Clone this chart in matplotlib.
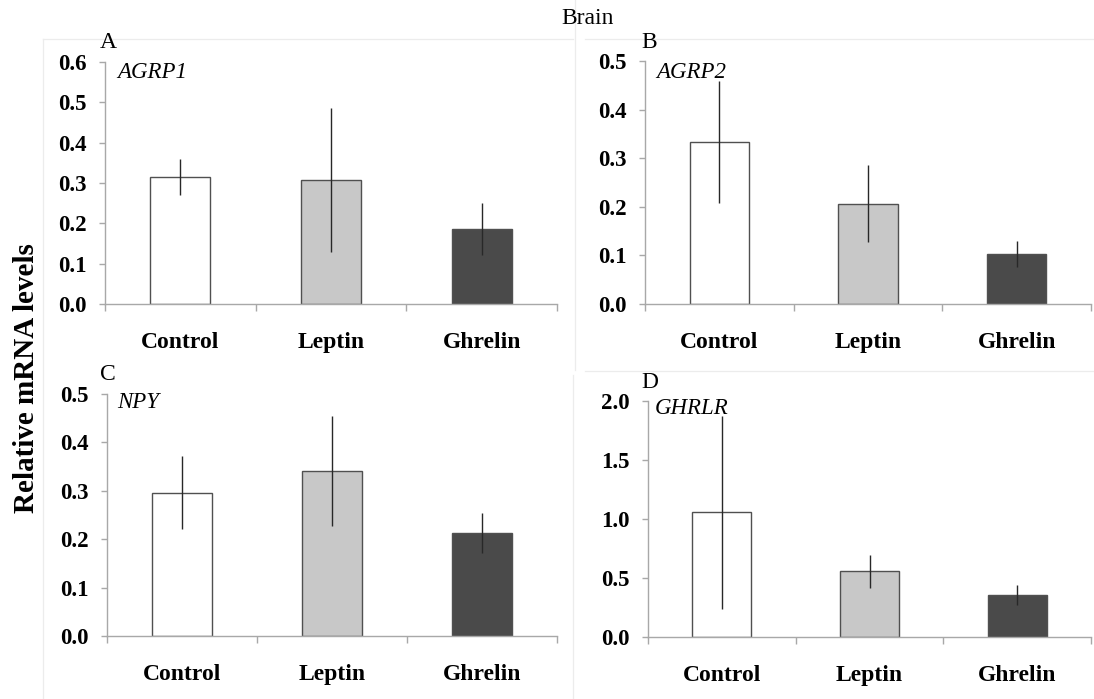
import matplotlib
matplotlib.use("Agg")
import matplotlib.pyplot as plt
from matplotlib.lines import Line2D
import numpy as np

categories = ["Control", "Leptin", "Ghrelin"]

agrp1_mean = [0.315, 0.308, 0.186]
agrp1_err = [0.045, 0.178, 0.064]

agrp2_mean = [0.333, 0.206, 0.103]
agrp2_err = [0.125, 0.079, 0.027]

npy_mean = [0.296, 0.341, 0.213]
npy_err = [0.075, 0.113, 0.042]

ghrlr_mean = [1.056, 0.558, 0.357]
ghrlr_err = [0.82, 0.14, 0.085]

gene_names = ["AGRP1", "AGRP2", "NPY", "GHRLR"]
panel_letters = ["A", "B", "C", "D"]
y_max = [0.6, 0.5, 0.5, 2.0]
y_step = [0.1, 0.1, 0.1, 0.5]

bar_colors = ["#ffffff", "#c8c8c8", "#4a4a4a"]
edge_color = "#505050"
axis_color = "#a8a8a8"

W, H = 1094, 699
fig = plt.figure(figsize=(W / 100, H / 100), dpi=100)
plt.rcParams["font.family"] = ["Liberation Serif", "DejaVu Serif"]

# axes boxes in pixel coords: left, right, top, bottom
boxes = [
    (105, 557, 62, 304),
    (645, 1091, 61, 304),
    (107, 557, 394, 636),
    (648, 1091, 401, 637),
]
means = [agrp1_mean, agrp2_mean, npy_mean, ghrlr_mean]
errs = [agrp1_err, agrp2_err, npy_err, ghrlr_err]
letter_pos = [(100, 43), (641, 42), (100, 375), (641, 382)]
gene_pos = [(117, 72), (656, 72), (117, 403), (655, 408)]

# faint frame lines (background chart frames)
def fline(x0, y0, x1, y1):
    fig.add_artist(Line2D([x0 / W, x1 / W], [1 - y0 / H, 1 - y1 / H],
                          color="#ececec", lw=0.9, transform=fig.transFigure))

fline(43, 39, 573, 39)
fline(43, 39, 43, 699)
fline(585, 39, 1094, 39)
fline(575, 0, 575, 370)
fline(585, 371, 1094, 371)
fline(573, 375, 573, 699)

x = np.arange(len(categories))
for i in range(4):
    l, r, t, b = boxes[i]
    ax = fig.add_axes([l / W, 1 - b / H, (r - l) / W, (b - t) / H])
    ax.bar(x, means[i], width=0.4, color=bar_colors, edgecolor=edge_color,
           linewidth=1.0, zorder=2)
    ax.errorbar(x, means[i], yerr=errs[i], fmt="none", ecolor="#282828",
                elinewidth=1.0, capsize=0, zorder=3)
    ax.set_xlim(-0.5, 2.5)
    ax.set_ylim(0, y_max[i])
    ticks = np.arange(0, y_max[i] + 1e-9, y_step[i])
    ax.set_yticks(ticks)
    ax.set_yticklabels([f"{v:.1f}" for v in ticks], fontsize=16.5,
                       fontweight="bold")
    ax.set_xticks(x)
    ax.set_xticklabels(categories, fontsize=17, fontweight="bold")
    ax.set_xticks([-0.5, 0.5, 1.5, 2.5], minor=True)
    ax.tick_params(axis="x", which="major", length=0, pad=20)
    ax.tick_params(axis="x", which="minor", length=5, color=axis_color,
                   direction="out", width=1)
    ax.tick_params(axis="y", length=4, color=axis_color, width=1, pad=9)
    for s in ["top", "right"]:
        ax.spines[s].set_visible(False)
    for s in ["left", "bottom"]:
        ax.spines[s].set_color(axis_color)
        ax.spines[s].set_linewidth(1.0)
    ax.patch.set_alpha(0)
    lx, ly = letter_pos[i]
    fig.text(lx / W, 1 - ly / H, panel_letters[i], fontsize=17,
             ha="left", va="center")
    gx, gy = gene_pos[i]
    fig.text(gx / W, 1 - gy / H, gene_names[i], fontsize=16.5,
             style="italic", ha="left", va="center")

fig.text(588 / W, 1 - 18 / H, "Brain", fontsize=17, ha="center", va="center")
fig.text(27 / W, 1 - 378 / H, "Relative mRNA levels", fontsize=21,
         fontweight="bold", rotation=90, ha="center", va="center")

fig.savefig("out.png", dpi=100, facecolor="white")
